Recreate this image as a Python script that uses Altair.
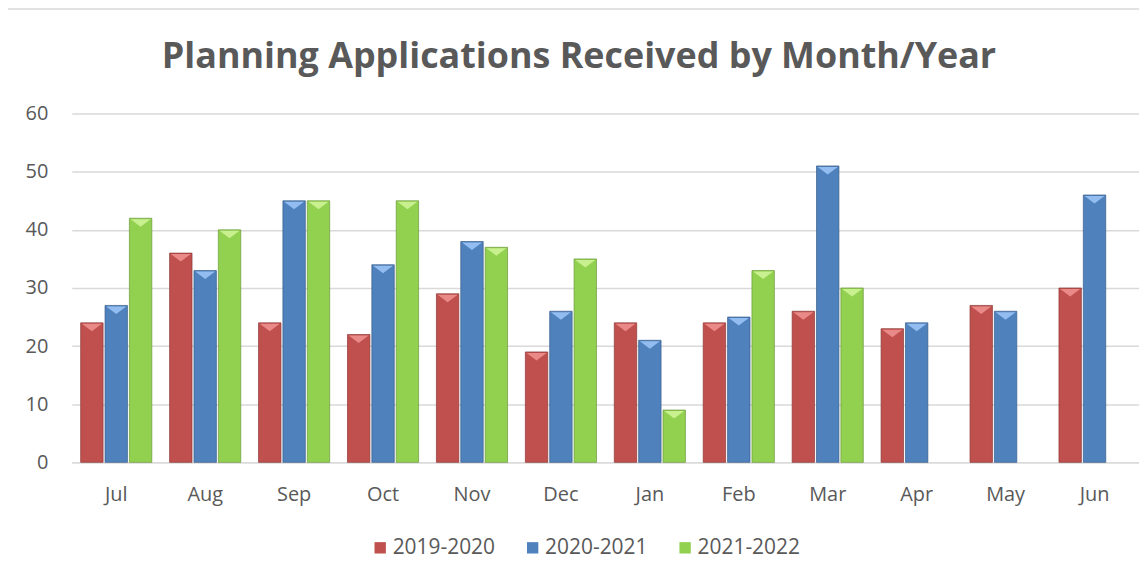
import altair as alt
import pandas as pd

months = ["Jul", "Aug", "Sep", "Oct", "Nov", "Dec", "Jan", "Feb", "Mar", "Apr", "May", "Jun"]
series = ["2019-2020", "2020-2021", "2021-2022"]
v2019 = [24, 36, 24, 22, 29, 19, 24, 24, 26, 23, 27, 30]
v2020 = [27, 33, 45, 34, 38, 26, 21, 25, 51, 24, 26, 46]
v2021 = [42, 40, 45, 45, 37, 35, 9, 33, 30, None, None, None]
colors = ["#C0504D", "#4F81BD", "#92D050"]
strokes = ["#8C3836", "#385D8A", "#6A9A3A"]
tops = ["#EA8A88", "#93BDF0", "#C8F08E"]

rows = []
for s, vals in zip(series, [v2019, v2020, v2021]):
    for m, v in zip(months, vals):
        if v is not None:
            rows.append({"month": m, "series": s, "value": v})
df = pd.DataFrame(rows)

FONT = "Open Sans"
TXT = "#595959"

xenc = alt.X("month:N", sort=months, title=None,
             scale=alt.Scale(paddingInner=0.2, paddingOuter=0.1),
             axis=alt.Axis(labelAngle=0, ticks=False, labelPadding=22, labelFontSize=20,
                           labelColor=TXT, labelFont=FONT, domainColor="#D9D9D9", domainWidth=1.5))
xoff = alt.XOffset("series:N", sort=series, scale=alt.Scale(domain=series, paddingInner=0.08))
yenc = alt.Y("value:Q", title=None,
             scale=alt.Scale(domain=[0, 60]),
             axis=alt.Axis(values=[0, 10, 20, 30, 40, 50, 60], ticks=False, domain=False,
                           labelPadding=24, labelFontSize=20, labelColor=TXT, labelFont=FONT,
                           gridColor="#D9D9D9", gridWidth=1.5))

bars = alt.Chart(df).mark_bar(strokeWidth=1, strokeOpacity=0.7).encode(
    x=xenc, xOffset=xoff, y=yenc,
    color=alt.Color("series:N", sort=series,
                    scale=alt.Scale(domain=series, range=colors),
                    legend=alt.Legend(title=None, orient="none", direction="horizontal",
                                      legendX=299, legendY=425, symbolType="square",
                                      symbolSize=130, symbolStrokeWidth=0, labelFontSize=21,
                                      labelColor=TXT, labelFont=FONT, labelOffset=2,
                                      columnPadding=27, symbolOpacity=1)),
    stroke=alt.Stroke("series:N", sort=series, scale=alt.Scale(domain=series, range=strokes),
                      legend=None),
)

caps = alt.Chart(df).mark_point(
    shape="M -1 0 L 1 0 L 0 0.75 Z", size=400, filled=True, opacity=1, yOffset=1
).encode(
    x=xenc, xOffset=xoff, y=yenc,
    fill=alt.Fill("series:N", sort=series, scale=alt.Scale(domain=series, range=tops),
                  legend=None),
)

border = alt.Chart(pd.DataFrame({"a": [0]})).mark_rect(
    fill=None, stroke="#D9D9D9", strokeWidth=1.5, clip=False
).encode(x=alt.value(-65), x2=alt.value(1080), y=alt.value(-105), y2=alt.value(467))

title = alt.Chart(pd.DataFrame({"t": ["Planning Applications Received by Month/Year"]})).mark_text(
    font=FONT, fontSize=36, fontWeight="bold", color=TXT, align="center", baseline="alphabetic"
).encode(text="t:N", x=alt.value(509), y=alt.value(-46))

chart = alt.layer(border, bars, caps, title).resolve_scale(
    color="independent", fill="independent", stroke="independent"
).properties(
    width=1071, height=350,
    padding={"left": 64, "top": 105, "right": 0, "bottom": 100},
    autosize=alt.AutoSizeParams(type="none"),
).configure_view(stroke=None)

chart.save("out.html", embed_options={"renderer": "svg", "actions": False})
